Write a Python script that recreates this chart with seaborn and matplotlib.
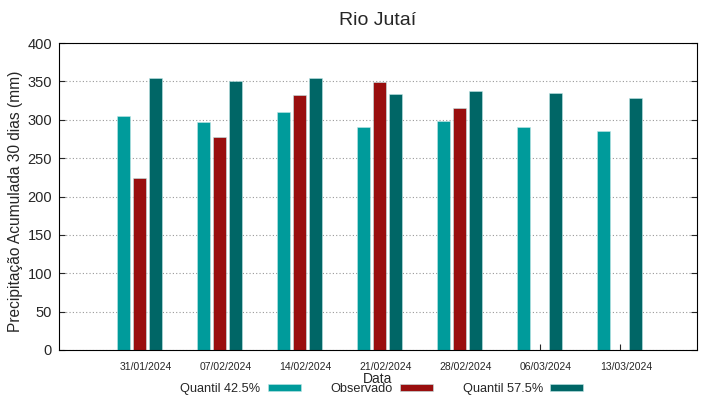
import numpy as np
import pandas as pd
import matplotlib
matplotlib.use("Agg")
import matplotlib.pyplot as plt
import matplotlib.transforms as mtransforms
import seaborn as sns

# values
dates = ["31/01/2024", "07/02/2024", "14/02/2024", "21/02/2024",
         "28/02/2024", "06/03/2024", "13/03/2024"]
q425 = [305, 297, 310, 291, 299, 291, 286]
observado = [224, 278, 332, 349, 316, np.nan, np.nan]
q575 = [355, 350, 355, 333, 338, 335, 328]
series = ["Quantil 42.5%", "Observado", "Quantil 57.5%"]
colors = ["#009b9b", "#990e0e", "#006666"]

df = pd.DataFrame({"Data": dates, series[0]: q425, series[1]: observado, series[2]: q575})
long = df.melt(id_vars="Data", var_name="serie", value_name="valor").dropna()

sns.set_style("white")
plt.rcParams["font.family"] = ["Liberation Sans", "DejaVu Sans"]
fig = plt.figure(figsize=(7.19, 3.99), dpi=100)
ax = fig.add_axes([0.082, 0.123, 0.887, 0.769])

sns.barplot(data=long, x="Data", y="valor", hue="serie", order=dates, hue_order=series,
            palette=colors, width=0.6, gap=0.2, saturation=1, errorbar=None,
            edgecolor="#bfe6e6", linewidth=0.4, ax=ax)

ax.set_xlim(-1.01, 6.96)
ax.set_ylim(0, 400)
ax.set_yticks(range(0, 401, 50))
ax.yaxis.grid(True, linestyle=(0, (1, 2)), color="#999999", linewidth=0.8)
ax.set_axisbelow(True)
for s in ax.spines.values():
    s.set_color("black")
    s.set_linewidth(0.8)
ax.tick_params(axis="y", direction="in", length=4, labelsize=10.5, pad=5, left=True, right=True)
ax.tick_params(axis="x", direction="in", length=4, labelsize=7.5, pad=9, bottom=True, top=False)
off = mtransforms.ScaledTranslation(6 / 100, 0, fig.dpi_scale_trans)
for lab in ax.get_xticklabels():
    lab.set_transform(lab.get_transform() + off)

ax.set_xlabel("Data", fontsize=10, labelpad=0)
ax.set_ylabel("Precipitação Acumulada 30 dias (mm)", fontsize=11.2, labelpad=3)
ax.yaxis.label.set_y(0.484)
ax.set_title("Rio Jutaí", fontsize=14, pad=13)

handles, labels = ax.get_legend_handles_labels()
ax.legend_.remove()
fig.legend(handles, labels, loc="center", bbox_to_anchor=(0.531, 0.025), ncol=3,
           frameon=False, markerfirst=False, fontsize=9.2, handlelength=2.6,
           handleheight=0.4, columnspacing=2.32, handletextpad=0.55)

fig.savefig("out.png", dpi=100)
